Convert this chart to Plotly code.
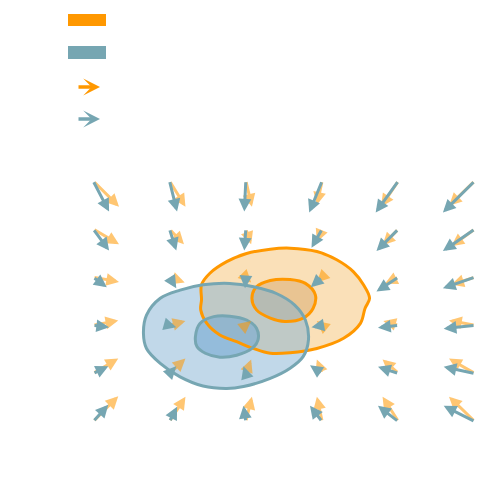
import plotly.graph_objects as go

# grid of arrow tails (data units)
grid_x = [0, 1, 2, 3, 4, 5]
grid_y = [5, 4, 3, 2, 1, 0]

# teal field, rows from top (y=5) to bottom (y=0)
teal_u = [
    [0.21, 0.10, -0.02, -0.17, -0.30, -0.42],
    [0.21, 0.09, -0.02, -0.14, -0.29, -0.42],
    [0.18, 0.09, -0.01, -0.15, -0.29, -0.42],
    [0.21, 0.09, -0.03, -0.14, -0.27, -0.41],
    [0.20, 0.09, -0.03, -0.16, -0.27, -0.41],
    [0.20, 0.10, -0.03, -0.16, -0.27, -0.41],
]
teal_v = [
    [-0.64, -0.64, -0.64, -0.66, -0.66, -0.66],
    [-0.45, -0.45, -0.45, -0.39, -0.46, -0.46],
    [-0.21, -0.23, -0.23, -0.21, -0.30, -0.23],
    [-0.04, -0.04, -0.04, -0.04, -0.05, -0.07],
    [0.15, 0.15, 0.15, 0.17, 0.14, 0.14],
    [0.35, 0.31, 0.33, 0.33, 0.33, 0.33],
]

# orange field
orange_u = [
    [0.34, 0.21, 0.08, -0.07, -0.23, -0.34],
    [0.34, 0.19, 0.07, -0.07, -0.21, -0.31],
    [0.34, 0.20, 0.07, -0.07, -0.18, -0.31],
    [0.33, 0.21, 0.07, -0.07, -0.20, -0.34],
    [0.33, 0.21, 0.07, -0.07, -0.21, -0.34],
    [0.33, 0.21, 0.08, -0.07, -0.21, -0.34],
]
orange_v = [
    [-0.54, -0.54, -0.54, -0.50, -0.54, -0.52],
    [-0.32, -0.32, -0.32, -0.27, -0.34, -0.36],
    [-0.10, -0.11, -0.11, -0.11, -0.14, -0.16],
    [0.10, 0.09, 0.09, 0.09, 0.09, 0.10],
    [0.31, 0.31, 0.29, 0.29, 0.29, 0.31],
    [0.53, 0.52, 0.52, 0.52, 0.52, 0.52],
]

# density contours
orange_outer_x = [1.42, 1.53, 1.75, 2.01, 2.32, 2.58, 2.93, 3.19, 3.41, 3.54, 3.62,
                  3.56, 3.50, 3.28, 2.93, 2.58, 2.32, 2.10, 1.88, 1.66, 1.49, 1.41, 1.42]
orange_outer_y = [2.84, 3.08, 3.32, 3.49, 3.58, 3.60, 3.53, 3.36, 3.11, 2.84, 2.56,
                  2.35, 2.04, 1.73, 1.52, 1.43, 1.42, 1.52, 1.66, 1.80, 2.04, 2.32, 2.53]
orange_inner_x = [2.08, 2.14, 2.32, 2.58, 2.78, 2.91, 2.88, 2.75, 2.51, 2.32, 2.14]
orange_inner_y = [2.56, 2.80, 2.93, 2.95, 2.87, 2.63, 2.35, 2.15, 2.08, 2.15, 2.32]
blue_outer_x = [0.66, 0.70, 0.88, 1.14, 1.44, 1.79, 2.10, 2.40, 2.64, 2.78, 2.82,
                2.75, 2.58, 2.32, 1.97, 1.75, 1.44, 1.14, 0.88, 0.70]
blue_outer_y = [1.83, 2.21, 2.56, 2.73, 2.84, 2.87, 2.80, 2.66, 2.42, 2.11, 1.70,
                1.35, 1.11, 0.90, 0.73, 0.69, 0.74, 0.93, 1.21, 1.52]
blue_inner_x = [1.34, 1.40, 1.58, 1.79, 2.01, 2.14, 2.16, 2.08, 1.88, 1.66, 1.47, 1.36]
blue_inner_y = [1.76, 2.04, 2.18, 2.19, 2.11, 1.94, 1.70, 1.52, 1.38, 1.34, 1.42, 1.56]

ORANGE = "rgb(255,152,0)"
TEAL = "rgb(118,166,178)"


def closed(xs, ys):
    return list(xs) + [xs[0]], list(ys) + [ys[0]]


fig = go.Figure()

contours = [
    (orange_outer_x, orange_outer_y, "rgb(250,224,184)", ORANGE),
    (orange_inner_x, orange_inner_y, "rgb(233,196,146)", ORANGE),
    (blue_outer_x, blue_outer_y, "rgba(131,178,212,0.5)", TEAL),
    (blue_inner_x, blue_inner_y, "rgba(118,170,210,0.6)", TEAL),
]

# fills first, then outlines on top
for xs, ys, fill, _ in contours:
    cx, cy = closed(xs, ys)
    fig.add_trace(go.Scatter(x=cx, y=cy, mode="lines", fill="toself",
                             fillcolor=fill, line=dict(width=0, shape="spline"),
                             hoverinfo="skip"))
for xs, ys, _, col in contours:
    cx, cy = closed(xs, ys)
    fig.add_trace(go.Scatter(x=cx, y=cy, mode="lines",
                             line=dict(color=col, width=3, shape="spline"),
                             hoverinfo="skip"))

annotations = []
for field_u, field_v, col in [(orange_u, orange_v, "rgba(255,152,0,0.55)"),
                              (teal_u, teal_v, TEAL)]:
    for j, y0 in enumerate(grid_y):
        for i, x0 in enumerate(grid_x):
            annotations.append(dict(
                x=x0 + field_u[j][i], y=y0 + field_v[j][i],
                ax=x0, ay=y0, xref="x", yref="y", axref="x", ayref="y",
                text="", showarrow=True, arrowhead=2, arrowsize=0.85,
                arrowwidth=3, arrowcolor=col, standoff=0,
            ))

# legend swatches (no labels)
for y_pos, col in [(0.842, ORANGE), (0.778, TEAL)]:
    annotations.append(dict(
        x=0.184, y=y_pos, xref="paper", yref="paper",
        ax=-23, ay=0, text="", showarrow=True, arrowhead=3, arrowsize=0.8,
        arrowwidth=3.5, arrowcolor=col, standoff=0,
    ))

shapes = [
    dict(type="rect", xref="paper", yref="paper", x0=0.12, x1=0.196,
         y0=0.964, y1=0.988, fillcolor=ORANGE, line=dict(width=0)),
    dict(type="rect", xref="paper", yref="paper", x0=0.12, x1=0.196,
         y0=0.898, y1=0.924, fillcolor=TEAL, line=dict(width=0)),
]

fig.update_layout(
    width=500, height=500,
    margin=dict(l=0, r=0, t=0, b=0),
    paper_bgcolor="white", plot_bgcolor="white",
    showlegend=False,
    xaxis=dict(visible=False, range=[-1.113, 5.432]),
    yaxis=dict(visible=False, range=[-1.790, 8.583]),
    annotations=annotations,
    shapes=shapes,
)

fig.write_html("out.html")
